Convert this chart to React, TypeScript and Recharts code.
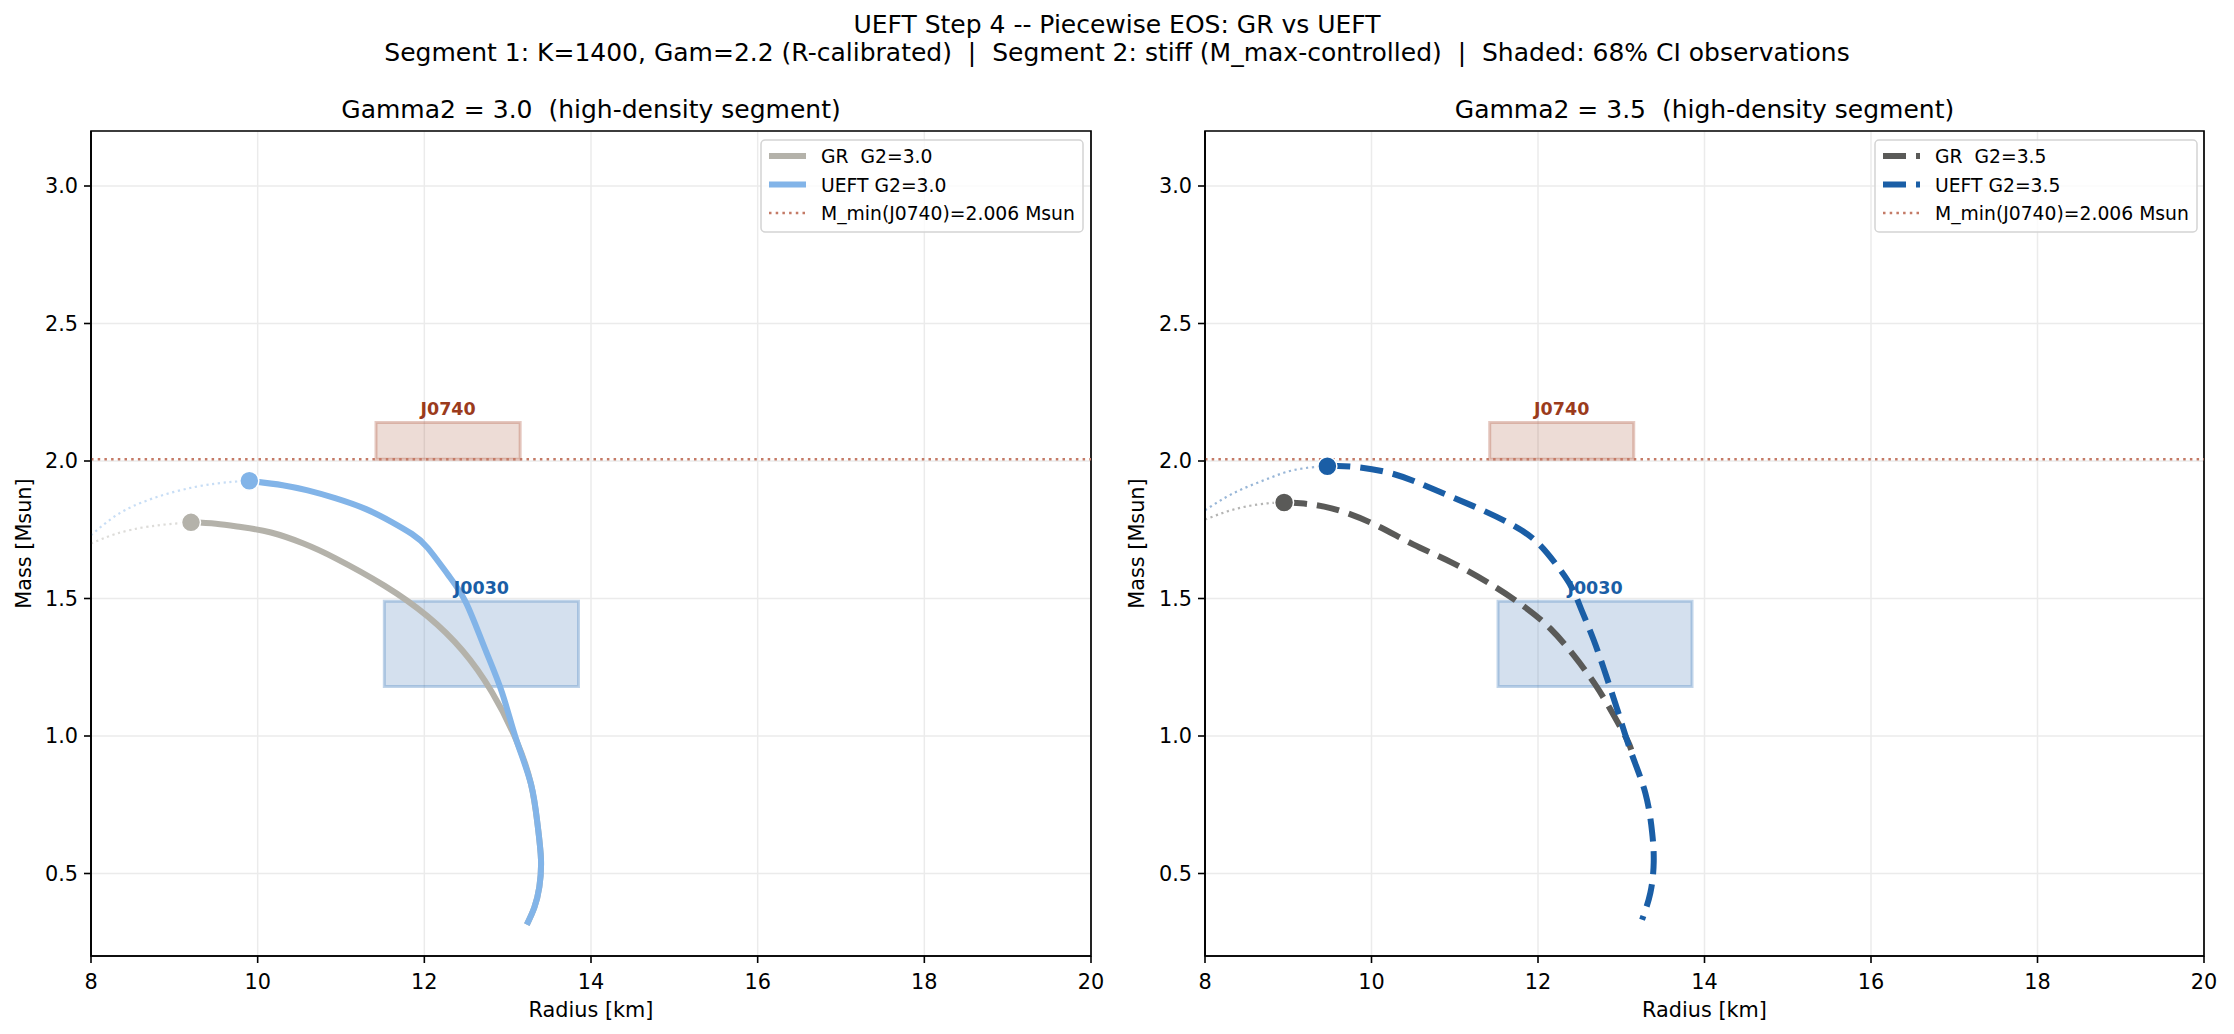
import React from "react";
import {
  ComposedChart,
  Line,
  Scatter,
  XAxis,
  YAxis,
  CartesianGrid,
  ReferenceArea,
  ReferenceLine,
} from "recharts";

// radius [km], mass [Msun]
const grStable30 = [
  [9.2, 1.777], [9.5, 1.772], [9.8, 1.76], [10.16, 1.74], [10.55, 1.7], [10.93, 1.647],
  [11.52, 1.547], [12.04, 1.435], [12.46, 1.31], [12.81, 1.16], [13.1, 0.987],
  [13.28, 0.825], [13.36, 0.675], [13.4, 0.55], [13.38, 0.451], [13.32, 0.376], [13.23, 0.314],
];
const grUnstable30 = [[8.0, 1.7], [8.3, 1.735], [8.7, 1.762], [9.2, 1.777]];
const ueStable30 = [
  [9.9, 1.928], [10.3, 1.912], [10.6, 1.893], [10.93, 1.865], [11.3, 1.825], [11.61, 1.778],
  [11.85, 1.735], [12.04, 1.684], [12.29, 1.584], [12.5, 1.485], [12.72, 1.323], [12.93, 1.16],
  [13.1, 0.99], [13.28, 0.825], [13.36, 0.675], [13.4, 0.55], [13.38, 0.451], [13.32, 0.376], [13.23, 0.314],
];
const ueUnstable30 = [[8.0, 1.73], [8.2, 1.78], [8.5, 1.835], [9.0, 1.888], [9.5, 1.918], [9.9, 1.928]];

const grStable35 = [
  [8.95, 1.849], [9.15, 1.846], [9.52, 1.828], [10.01, 1.773], [10.5, 1.697], [10.99, 1.627],
  [11.48, 1.543], [11.85, 1.467], [12.15, 1.39], [12.43, 1.293], [12.7, 1.181], [12.92, 1.07],
  [13.07, 0.987], [13.12, 0.95],
];
const grUnstable35 = [[8.0, 1.787], [8.25, 1.815], [8.5, 1.835], [8.75, 1.846], [8.95, 1.849]];
const ueStable35 = [
  [9.47, 1.981], [9.76, 1.98], [10.25, 1.954], [10.74, 1.898], [11.23, 1.835], [11.66, 1.773],
  [11.97, 1.71], [12.21, 1.627], [12.4, 1.543], [12.52, 1.46], [12.67, 1.348], [12.83, 1.209],
  [12.98, 1.07], [13.13, 0.931], [13.29, 0.792], [13.37, 0.652], [13.39, 0.541], [13.35, 0.43], [13.25, 0.332],
];
const ueUnstable35 = [[8.0, 1.821], [8.25, 1.868], [8.5, 1.905], [8.75, 1.935], [9.0, 1.962], [9.25, 1.976], [9.47, 1.981]];

// 68% CI boxes
const j0740R = [11.42, 13.15];
const j0740M = [2.006, 2.14];
const j0030R = [11.52, 13.85];
const j0030M = [1.18, 1.49];
const mMin = 2.006;

const xTicks = [8, 10, 12, 14, 16, 18, 20];
const yTicks = [0.5, 1.0, 1.5, 2.0, 2.5, 3.0];

const FONT = "DejaVu Sans";

const toPts = (arr: number[][]) => arr.map(([r, m]) => ({ r, m }));

interface PanelProps {
  left: number;
  marginLeft: number;
  marginRight: number;
  grStable: number[][];
  grUnstable: number[][];
  ueStable: number[][];
  ueUnstable: number[][];
  grColor: string;
  ueColor: string;
  dash?: string;
}

function Panel(p: PanelProps) {
  const grMax = toPts([p.grStable[0]]);
  const ueMax = toPts([p.ueStable[0]]);
  const dot = (color: string) => (props: any) => (
    <circle cx={props.cx} cy={props.cy} r={9.5} fill={color} stroke="#fff" strokeWidth={1.5} />
  );
  return (
    <div style={{ position: "absolute", left: p.left, top: 0 }}>
      <ComposedChart
        width={1117}
        height={1034}
        margin={{ top: 131, right: p.marginRight, bottom: 48, left: p.marginLeft }}
      >
        <CartesianGrid stroke="#ebebeb" strokeWidth={1.5} />
        <XAxis
          type="number"
          dataKey="r"
          domain={[8, 20]}
          ticks={xTicks}
          allowDataOverflow
          height={30}
          tickSize={7}
          tickMargin={11}
          tick={{ fill: "#000", fontSize: 20.8, fontFamily: FONT }}
          tickLine={{ stroke: "#000", strokeWidth: 1.6 }}
          axisLine={{ stroke: "#000", strokeWidth: 1.7 }}
        />
        <YAxis
          type="number"
          dataKey="m"
          domain={[0.2, 3.2]}
          ticks={yTicks}
          allowDataOverflow
          width={60}
          tickSize={7}
          tickMargin={6}
          tickFormatter={(v: number) => v.toFixed(1)}
          tick={{ fill: "#000", fontSize: 20.8, fontFamily: FONT }}
          tickLine={{ stroke: "#000", strokeWidth: 1.6 }}
          axisLine={{ stroke: "#000", strokeWidth: 1.7 }}
        />
        <ReferenceLine y={mMin} stroke="#c47a66" strokeWidth={2.5} strokeDasharray="2.5 4.2" />
        <Line data={toPts(p.grUnstable)} dataKey="m" type="natural" dot={false} stroke={p.grColor}
          strokeOpacity={0.45} strokeWidth={2.2} strokeDasharray="2.2 3.6" isAnimationActive={false} />
        <Line data={toPts(p.ueUnstable)} dataKey="m" type="natural" dot={false} stroke={p.ueColor}
          strokeOpacity={0.45} strokeWidth={2.2} strokeDasharray="2.2 3.6" isAnimationActive={false} />
        <Line data={toPts(p.grStable)} dataKey="m" type="natural" dot={false} stroke={p.grColor}
          strokeWidth={6} strokeDasharray={p.dash} isAnimationActive={false} />
        <Line data={toPts(p.ueStable)} dataKey="m" type="natural" dot={false} stroke={p.ueColor}
          strokeWidth={6} strokeDasharray={p.dash} isAnimationActive={false} />
        <Scatter data={grMax} dataKey="m" shape={dot(p.grColor)} isAnimationActive={false} />
        <Scatter data={ueMax} dataKey="m" shape={dot(p.ueColor)} isAnimationActive={false} />
        <ReferenceArea
          x1={j0740R[0]} x2={j0740R[1]} y1={j0740M[0]} y2={j0740M[1]}
          fill="#9b3b1c" fillOpacity={0.18} stroke="#b5604a" strokeOpacity={0.35} strokeWidth={3}
          label={{ value: "J0740", position: "top", offset: 8, fill: "#9b3b1c", fontSize: 17.5, fontWeight: "bold", fontFamily: FONT }}
        />
        <ReferenceArea
          x1={j0030R[0]} x2={j0030R[1]} y1={j0030M[0]} y2={j0030M[1]}
          fill="#2a65a8" fillOpacity={0.2} stroke="#4a85c0" strokeOpacity={0.35} strokeWidth={3}
          label={{ value: "J0030", position: "top", offset: 7, fill: "#1a5ea6", fontSize: 17.5, fontWeight: "bold", fontFamily: FONT }}
        />
        <ReferenceArea x1={8} x2={20} y1={0.2} y2={3.2} fill="none" stroke="#000" strokeWidth={1.7} />
      </ComposedChart>
    </div>
  );
}

function LegendBox({ x, grLabel, ueLabel, grColor, ueColor, dash }: any) {
  const rows = [156, 184.5, 213];
  return (
    <g fontFamily={FONT} fontSize={18.75}>
      <rect x={x} y={140} width={322} height={92} rx={4} fill="#fff" fillOpacity={0.8} stroke="#d4d4d4" strokeWidth={1.5} />
      <line x1={x + 8} x2={x + 45} y1={rows[0]} y2={rows[0]} stroke={grColor} strokeWidth={6} strokeDasharray={dash} />
      <line x1={x + 8} x2={x + 45} y1={rows[1]} y2={rows[1]} stroke={ueColor} strokeWidth={6} strokeDasharray={dash} />
      <line x1={x + 8} x2={x + 45} y1={rows[2]} y2={rows[2]} stroke="#c47a66" strokeWidth={2.5} strokeDasharray="2.5 4.2" />
      <text x={x + 60} y={rows[0] + 7} style={{ whiteSpace: "pre" }}>{grLabel}</text>
      <text x={x + 60} y={rows[1] + 7} style={{ whiteSpace: "pre" }}>{ueLabel}</text>
      <text x={x + 60} y={rows[2] + 7}>M_min(J0740)=2.006 Msun</text>
    </g>
  );
}

export default function App() {
  const lightGray = "#b4b2aa";
  const lightBlue = "#82b4e8";
  const darkGray = "#5a5a58";
  const darkBlue = "#1a5ea6";
  const dash = "23 10";
  return (
    <div style={{ position: "absolute", left: 0, top: 0, width: 2234, height: 1034, background: "#fff" }}>
      <Panel left={0} marginLeft={31} marginRight={26}
        grStable={grStable30} grUnstable={grUnstable30} ueStable={ueStable30} ueUnstable={ueUnstable30}
        grColor={lightGray} ueColor={lightBlue} />
      <Panel left={1117} marginLeft={28} marginRight={30}
        grStable={grStable35} grUnstable={grUnstable35} ueStable={ueStable35} ueUnstable={ueUnstable35}
        grColor={darkGray} ueColor={darkBlue} dash={dash} />
      <svg width={2234} height={1034} style={{ position: "absolute", left: 0, top: 0, pointerEvents: "none" }}>
        <g fontFamily={FONT} fill="#000" textAnchor="middle">
          <text x={1117} y={33} fontSize={25}>UEFT Step 4 -- Piecewise EOS: GR vs UEFT</text>
          <text x={1117} y={61} fontSize={25} style={{ whiteSpace: "pre" }}>
            Segment 1: K=1400, Gam=2.2 (R-calibrated)  |  Segment 2: stiff (M_max-controlled)  |  Shaded: 68% CI observations
          </text>
          <text x={591} y={118} fontSize={25} style={{ whiteSpace: "pre" }}>Gamma2 = 3.0  (high-density segment)</text>
          <text x={1704.5} y={118} fontSize={25} style={{ whiteSpace: "pre" }}>Gamma2 = 3.5  (high-density segment)</text>
          <text x={591} y={1017} fontSize={20.8}>Radius [km]</text>
          <text x={1704.5} y={1017} fontSize={20.8}>Radius [km]</text>
          <text x={31} y={543.5} fontSize={20.8} transform="rotate(-90 31 543.5)">Mass [Msun]</text>
          <text x={1144} y={543.5} fontSize={20.8} transform="rotate(-90 1144 543.5)">Mass [Msun]</text>
        </g>
        <LegendBox x={761} grLabel="GR  G2=3.0" ueLabel="UEFT G2=3.0" grColor={lightGray} ueColor={lightBlue} />
        <LegendBox x={1875} grLabel="GR  G2=3.5" ueLabel="UEFT G2=3.5" grColor={darkGray} ueColor={darkBlue} dash={dash} />
      </svg>
    </div>
  );
}
